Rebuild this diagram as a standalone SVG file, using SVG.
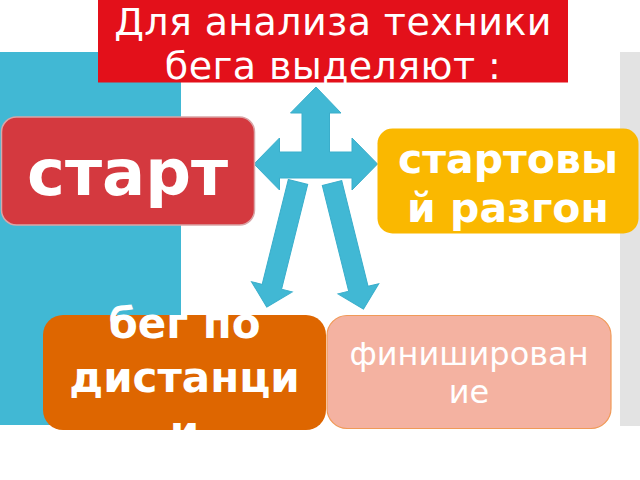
<svg xmlns="http://www.w3.org/2000/svg" width="640" height="480" viewBox="0 0 640 480">
<defs>
<style>
.t{font-family:"DejaVu Sans","Liberation Sans",sans-serif;fill:#ffffff;text-anchor:middle}
.b{font-weight:bold}
.arr{fill:#41B8D4;stroke:#3AAECB;stroke-width:1}
</style>
<clipPath id="clipBeg"><rect x="30" y="290" width="310" height="143"/></clipPath>
</defs>
<rect x="0" y="0" width="640" height="480" fill="#ffffff"/>
<rect x="0" y="52" width="181" height="373" fill="#41B8D4"/>
<rect x="620" y="52" width="20" height="374" fill="#E3E3E3"/>
<g id="title">
<rect x="98" y="0" width="470" height="82.5" fill="#E3101A"/>
<text class="t" x="333" y="35" font-size="38" letter-spacing="0.4">Для анализа техники</text>
<text class="t" x="333" y="79" font-size="38" letter-spacing="0.4">бега выделяют :</text>
</g>
<g id="connectors">
<polygon class="arr" points="316,87 341,113 329.5,113 329.5,152 352,152 352,138 377.5,164 352,190 352,178 279.5,178 279.5,190 254,164 279.5,138 279.5,152 302,152 302,113 290.5,113"/>
<polygon class="arr" transform="translate(298,182) rotate(14)" points="-10,0 10,0 10,108 21,108 0,129 -21,108 -10,108"/>
<polygon class="arr" transform="translate(332,183) rotate(-14)" points="-10,0 10,0 10,109 21,109 0,130 -21,109 -10,109"/>
</g>
<g id="start">
<rect x="1.5" y="117" width="253" height="108" rx="15" fill="#D4393F" stroke="#D9A5A7" stroke-width="1.5"/>
<text class="t b" x="127.5" y="195" font-size="64">старт</text>
</g>
<g id="razgon">
<rect x="377.5" y="128.5" width="261" height="105" rx="15" fill="#FAB800"/>
<text class="t b" x="508" y="173" font-size="41">стартовы</text>
<text class="t b" x="508" y="222" font-size="41">й разгон</text>
</g>
<g id="distance">
<rect x="43" y="315" width="283" height="115" rx="20" fill="#DE6600"/>
<g clip-path="url(#clipBeg)">
<text class="t b" x="184.5" y="338" font-size="42">бег по</text>
<text class="t b" x="184.5" y="392" font-size="42">дистанци</text>
<text class="t b" x="184.5" y="446" font-size="42">и</text>
</g>
</g>
<g id="finish">
<rect x="327" y="315.5" width="284" height="113" rx="20" fill="#F4B2A1" stroke="#F09A58" stroke-width="1.2"/>
<text class="t" x="469" y="365" font-size="32">финиширован</text>
<text class="t" x="469" y="403" font-size="32">ие</text>
</g>
</svg>
